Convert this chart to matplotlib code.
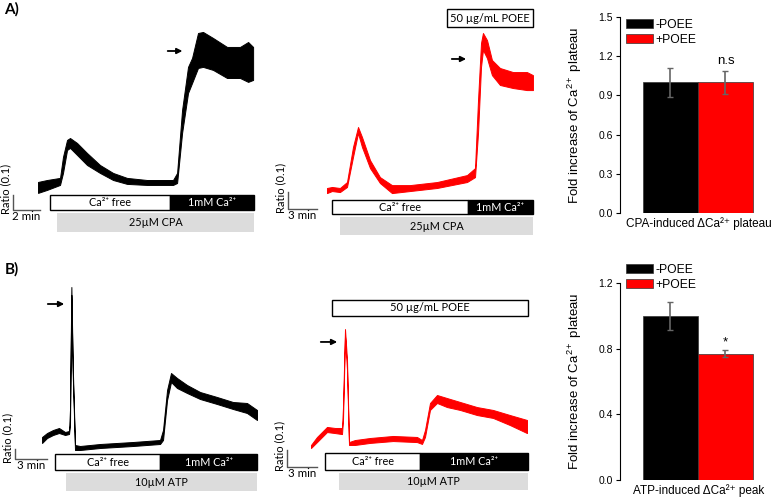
import matplotlib
matplotlib.use("Agg")
import matplotlib.pyplot as plt
from matplotlib.patches import Rectangle, Patch

W, H = 778, 498
TF = ['Lato', 'DejaVu Sans']             # trace panel text
BF = ['Liberation Sans', 'DejaVu Sans']  # bar chart text

plt.rcParams['mathtext.fontset'] = 'custom'
plt.rcParams['mathtext.rm'] = 'Liberation Sans'
plt.rcParams['mathtext.it'] = 'Liberation Sans:italic'
plt.rcParams['mathtext.bf'] = 'Liberation Sans:bold'

# ---- traces: time (min), upper / lower edge of the noisy ratio band ----
a1_t = [0, 0.67, 1.63, 1.85, 2.15, 2.37, 2.89, 3.63, 4.59, 5.56, 6.59, 8.07, 10.0,
        10.3, 10.67, 11.11, 11.41, 11.85, 12.22, 12.96, 14.0, 14.96, 15.56, 15.93]
a1_top = [0.02, 0.033, 0.047, 0.187, 0.30, 0.313, 0.28, 0.213, 0.133, 0.08, 0.047, 0.033,
          0.033, 0.08, 0.50, 0.787, 0.847, 1.013, 1.02, 0.98, 0.92, 0.92, 0.953, 0.92]
a1_bot = [-0.053, -0.033, 0.0, 0.08, 0.233, 0.247, 0.20, 0.133, 0.08, 0.033, 0.007, 0.0,
          0.0, 0.013, 0.347, 0.613, 0.68, 0.78, 0.787, 0.767, 0.713, 0.713, 0.687, 0.70]

a2_t = [0, 0.52, 1.34, 2.07, 2.69, 3.21, 3.62, 4.45, 5.48, 6.72, 8.58, 11.38, 14.48,
        15.31, 15.62, 15.93, 16.13, 16.55, 17.06, 17.89, 19.24, 20.68, 21.30]
a2_top = [0.012, 0.018, 0.012, 0.047, 0.253, 0.371, 0.312, 0.176, 0.076, 0.029, 0.029, 0.047,
          0.088, 0.129, 0.529, 0.865, 0.924, 0.882, 0.765, 0.718, 0.694, 0.694, 0.676]
a2_bot = [-0.018, -0.006, -0.012, 0.018, 0.194, 0.335, 0.253, 0.129, 0.041, -0.018, -0.006, 0.012,
          0.047, 0.076, 0.335, 0.724, 0.824, 0.776, 0.676, 0.618, 0.60, 0.588, 0.588]

b1_t = [0, 0.47, 1.03, 1.59, 2.16, 2.53, 2.62, 2.75, 2.88, 3.09, 3.56, 5.44, 8.53,
        11.06, 11.34, 11.72, 12.09, 12.65, 13.59, 14.81, 16.40, 17.90, 19.21, 20.15]
b1_top = [0.03, 0.07, 0.10, 0.12, 0.08, 0.09, 0.30, 1.53, 0.73, -0.05, -0.06, -0.04, -0.02,
          0.0, 0.10, 0.50, 0.67, 0.62, 0.55, 0.48, 0.43, 0.38, 0.37, 0.30]
b1_bot = [-0.03, 0.02, 0.05, 0.07, 0.05, 0.06, 0.15, 1.45, 0.65, -0.10, -0.10, -0.08, -0.06,
          -0.04, 0.0, 0.40, 0.58, 0.52, 0.47, 0.41, 0.36, 0.31, 0.27, 0.20]

b2_t = [0, 0.6, 1.6, 2.4, 3.1, 3.2, 3.4, 3.6, 3.8, 4.4, 5.9, 8.2, 10.6, 11.1, 11.4,
        11.9, 12.6, 13.6, 14.9, 16.6, 18.2, 19.9, 21.6]
b2_top = [0.012, 0.059, 0.118, 0.112, 0.112, 0.235, 0.694, 0.512, 0.029, 0.041, 0.053, 0.065,
          0.059, 0.041, 0.100, 0.259, 0.306, 0.288, 0.265, 0.235, 0.218, 0.188, 0.159]
b2_bot = [-0.006, 0.029, 0.088, 0.082, 0.076, 0.159, 0.653, 0.453, 0.012, 0.012, 0.024, 0.035,
          0.029, 0.018, 0.059, 0.218, 0.259, 0.235, 0.218, 0.188, 0.171, 0.129, 0.082]

# ---- bar charts ----
groups = ['-POEE', '+POEE']
bar_colors = ['black', '#ff0000']
cpa_mean = [1.0, 1.0]
cpa_err = [0.11, 0.09]
atp_mean = [1.0, 0.77]
atp_err = [0.085, 0.02]

fig = plt.figure(figsize=(W / 100, H / 100), dpi=100)


def px_axes(x0, y0, x1, y1):
    return fig.add_axes([x0 / W, 1 - y1 / H, (x1 - x0) / W, (y1 - y0) / H])


def box(ax, x0, x1, y0, y1, fc, ec, text, tc, fs=7.8):
    ax.add_patch(Rectangle((x0, y0), x1 - x0, y1 - y0, facecolor=fc, edgecolor=ec, lw=1))
    ax.text((x0 + x1) / 2, (y0 + y1) / 2, text, ha='center', va='center',
            color=tc, fontsize=fs, family=TF)


def arrow(ax, x0, x1, y):
    ax.annotate('', xy=(x1, y), xytext=(x0, y),
                arrowprops=dict(arrowstyle='-|>', color='black', lw=1.3, mutation_scale=8))


def scalebar(ax, x0, y0, mins, ratio, label):
    ax.plot([x0, x0, x0 + mins], [y0 + ratio, y0, y0], color='#555555', lw=1)
    ax.annotate('Ratio (0.1)', xy=(x0, y0), xytext=(-1.5, -3), textcoords='offset points',
                rotation=90, ha='left', va='bottom', rotation_mode='anchor',
                fontsize=8, family=TF)
    ax.annotate(label, xy=(x0 + mins / 2, y0), xytext=(0, -1), textcoords='offset points',
                ha='center', va='top', fontsize=8.3, family=TF)


def trace(ax, t, top, bot, color):
    ax.fill_between(t, bot, top, color=color, lw=0.7)
    ax.axis('off')


# A) control, CPA
ax = px_axes(0, 0, 260, 240)
ax.set_xlim(-2.815, 16.44)
ax.set_ylim(-0.367, 1.233)
trace(ax, a1_t, a1_top, a1_bot, 'black')
box(ax, 0.89, 9.78, -0.167, -0.067, 'white', 'black', 'Ca²⁺ free', 'black')
box(ax, 9.78, 16.0, -0.167, -0.067, 'black', 'black', '1mM Ca²⁺', 'white')
box(ax, 1.41, 16.0, -0.313, -0.187, '#dcdcdc', 'none', '25µM CPA', 'black')
arrow(ax, 9.4, 10.9, 0.893)
scalebar(ax, -1.85, -0.167, 2, 0.1, '2 min')

# A) POEE, CPA
ax = px_axes(262, 0, 540, 240)
ax.set_xlim(-6.72, 22.03)
ax.set_ylim(-0.294, 1.118)
trace(ax, a2_t, a2_top, a2_bot, '#ff0000')
box(ax, 0.52, 14.58, -0.141, -0.059, 'white', 'black', 'Ca²⁺ free', 'black')
box(ax, 14.58, 21.30, -0.141, -0.059, 'black', 'black', '1mM Ca²⁺', 'white')
box(ax, 1.34, 21.30, -0.265, -0.159, '#dcdcdc', 'none', '25µM CPA', 'black')
box(ax, 12.41, 21.30, 0.959, 1.065, 'white', 'black', '50 µg/mL POEE', 'black', fs=8)
arrow(ax, 12.62, 14.68, 0.771)
scalebar(ax, -4.03, -0.112, 3, 0.1, '3 min')

# B) control, ATP
ax = px_axes(0, 250, 260, 498)
ax.set_xlim(-3.94, 20.43)
ax.set_ylim(-0.58, 1.90)
trace(ax, b1_t, b1_top, b1_bot, 'black')
box(ax, 1.22, 11.06, -0.30, -0.14, 'white', 'black', 'Ca²⁺ free', 'black')
box(ax, 11.06, 20.15, -0.30, -0.14, 'black', 'black', '1mM Ca²⁺', 'white')
box(ax, 2.25, 20.15, -0.51, -0.33, '#dcdcdc', 'none', '10µM ATP', 'black')
arrow(ax, 0.28, 2.34, 1.36)
scalebar(ax, -2.53, -0.19, 3, 0.1, '3 min')

# B) POEE, ATP
ax = px_axes(262, 250, 540, 498)
ax.set_xlim(-4.9, 22.9)
ax.set_ylim(-0.3, 1.159)
trace(ax, b2_t, b2_top, b2_bot, '#ff0000')
box(ax, 1.4, 10.9, -0.135, -0.035, 'white', 'black', 'Ca²⁺ free', 'black')
box(ax, 10.9, 21.7, -0.135, -0.035, 'black', 'black', '1mM Ca²⁺', 'white')
box(ax, 2.8, 21.7, -0.253, -0.153, '#dcdcdc', 'none', '10µM ATP', 'black')
box(ax, 2.1, 21.7, 0.771, 0.865, 'white', 'black', '50 µg/mL POEE', 'black', fs=8)
arrow(ax, 0.7, 2.9, 0.618)
scalebar(ax, -2.4, -0.118, 3, 0.1, '3 min')

fig.text(4 / W, 1 - 2 / H, 'A)', fontsize=11, fontweight='bold', family=TF, va='top')
fig.text(5 / W, 1 - 262 / H, 'B)', fontsize=11, fontweight='bold', family=TF, va='top')


def bar_panel(y_top, y_bot, means, errs, ymax, step, xlabel, mark, mark_y, leg_y):
    ax = px_axes(620, y_top, 778, y_bot)
    ax.bar([0, 1], means, width=1.0, color=bar_colors, edgecolor='#333333', lw=0.5)
    ax.errorbar([0, 1], means, yerr=errs, fmt='none', ecolor='#666666',
                elinewidth=1.2, capsize=2.5, capthick=1)
    ax.set_xlim(-0.918, 1.955)
    ax.set_ylim(0, ymax)
    n = int(round(ymax / step))
    ax.set_yticks([i * step for i in range(n + 1)])
    ax.set_yticklabels(['%.1f' % (i * step) for i in range(n + 1)], family=BF, fontsize=7.5)
    ax.set_xticks([])
    for s in ['top', 'right', 'bottom']:
        ax.spines[s].set_visible(False)
    ax.spines['left'].set_linewidth(0.8)
    ax.tick_params(axis='y', length=3, width=0.8, pad=2)
    ax.set_ylabel('Fold increase of Ca$^{2+}$ plateau', family=BF, fontsize=9.5)
    ax.yaxis.set_label_coords(-0.23, 0.5)
    ax.set_xlabel(xlabel, family=BF, fontsize=8.5, labelpad=3)
    ax.text(1, mark_y, mark, ha='center', va='bottom', family=BF, fontsize=9.5)
    handles = [Patch(facecolor=c, edgecolor='#333333', lw=0.5) for c in bar_colors]
    fig.legend(handles, groups, loc='upper left', bbox_to_anchor=(626 / W, 1 - leg_y / H),
               frameon=False, borderpad=0, borderaxespad=0, handlelength=2.2,
               handleheight=0.8, handletextpad=0.2, labelspacing=0.25,
               prop={'family': BF, 'size': 8.7})
    return ax


bar_panel(17, 213, cpa_mean, cpa_err, 1.5, 0.3, 'CPA-induced ΔCa²⁺ plateau', 'n.s', 1.12, 19)
bar_panel(283, 480, atp_mean, atp_err, 1.2, 0.4, 'ATP-induced ΔCa²⁺ peak', '*', 0.8, 264)

fig.savefig('out.png', dpi=100)
